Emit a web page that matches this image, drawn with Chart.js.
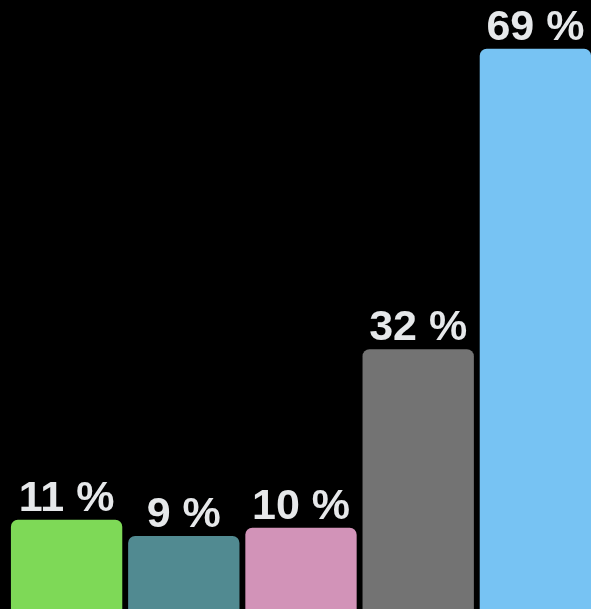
<!DOCTYPE html>
<html>
<head>
<meta charset="utf-8">
<script src="https://cdn.jsdelivr.net/npm/chart.js@4"></script>
<style>
    html, body { margin: 0; padding: 0; background: #000; overflow: hidden; }
    #wrap { position: absolute; left: 8px; top: 0; width: 586px; height: 609px; }
</style>
</head>
<body>
<div id="wrap"><canvas id="barChart"></canvas></div>
<script>
// datos del gráfico
const categories = ['A', 'B', 'C', 'D', 'E'];
const values = [11, 9, 10, 32, 69];
const barColors = ['#7ED957', '#518A91', '#D293B8', '#737373', '#77C3F3'];

// etiquetas encima de cada barra
const valueLabels = {
    id: 'valueLabels',
    afterDatasetsDraw(chart) {
        const ctx = chart.ctx;
        const meta = chart.getDatasetMeta(0);
        ctx.save();
        ctx.fillStyle = '#E6E8EA';
        ctx.font = 'bold 43px "Liberation Sans", Arial, sans-serif';
        ctx.textAlign = 'center';
        ctx.textBaseline = 'alphabetic';
        meta.data.forEach((bar, i) => {
            ctx.fillText(values[i] + ' %', bar.x, bar.y - 9);
        });
        ctx.restore();
    }
};

const ctx = document.getElementById('barChart').getContext('2d');
new Chart(ctx, {
    type: 'bar',
    data: {
        labels: categories,
        datasets: [{
            data: values,
            backgroundColor: barColors,
            borderRadius: { topLeft: 7, topRight: 7 },
            borderSkipped: 'bottom',
            barPercentage: 0.95,
            categoryPercentage: 1
        }]
    },
    options: {
        responsive: true,
        maintainAspectRatio: false,
        animation: false,
        layout: { padding: 0 },
        plugins: {
            legend: { display: false },
            tooltip: { enabled: false }
        },
        scales: {
            x: { display: false },
            y: { display: false, min: 0, max: 75 }
        }
    },
    plugins: [valueLabels]
});
</script>
</body>
</html>
